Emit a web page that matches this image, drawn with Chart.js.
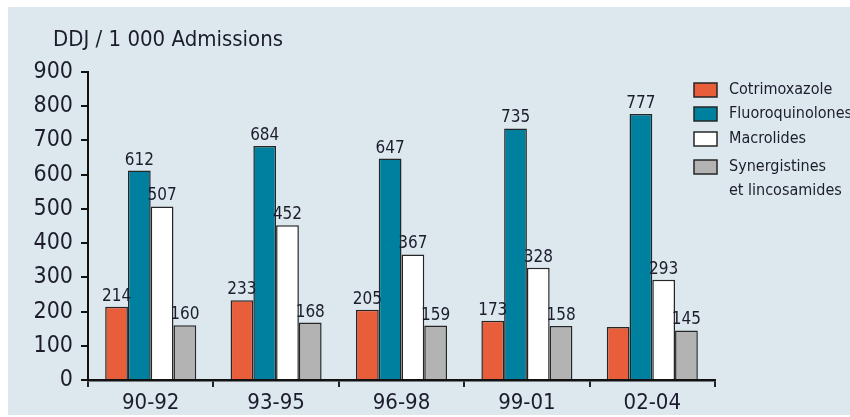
<!DOCTYPE html>
<html>
<head>
<meta charset="utf-8">
<script src="https://cdn.jsdelivr.net/npm/chart.js@4.4.1/dist/chart.umd.min.js"></script>
<style>
  html, body { margin: 0; padding: 0; background: #ffffff; }
  #wrap { position: relative; width: 850px; height: 417px; }
  canvas { display: block; }
</style>
</head>
<body>
<div id="wrap"><canvas id="c" width="850" height="417"></canvas></div>
<script>
// ---- data ----
const categories = ['90-92', '93-95', '96-98', '99-01', '02-04'];
const seriesNames = ['Cotrimoxazole', 'Fluoroquinolones', 'Macrolides', ['Synergistines', 'et lincosamides']];
const cotrimoxazole = [214, 233, 205, 173, 155];
const fluoroquinolones = [612, 684, 647, 735, 777];
const macrolides = [507, 452, 367, 328, 293];
const synergistines = [160, 168, 159, 158, 145];
// value labels printed in the source (null = not printed)
const cotrimoxazoleLabels = ['214', '233', '205', '173', null];
const fluoroquinolonesLabels = ['612', '684', '647', '735', '777'];
const macrolidesLabels = ['507', '452', '367', '328', '293'];
const synergistinesLabels = ['160', '168', '159', '158', '145'];
const yTicks = [0, 100, 200, 300, 400, 500, 600, 700, 800, 900];
const titleText = 'DDJ / 1 000 Admissions';

// ---- styles ----
const FONT = "'Liberation Sans Narrow', 'DejaVu Sans Condensed', 'Arial Narrow', sans-serif";
const TEXT = '#1c1c2c';
const colors = ['#e85d3a', '#00809f', '#ffffff', '#b3b3b3'];
const BORDER = '#262626';
const BG = '#dce8ee';

const allValues = [cotrimoxazole, fluoroquinolones, macrolides, synergistines];
const allLabels = [cotrimoxazoleLabels, fluoroquinolonesLabels, macrolidesLabels, synergistinesLabels];

const datasets = allValues.map((vals, i) => ({
  label: Array.isArray(seriesNames[i]) ? seriesNames[i].join(' ') : seriesNames[i],
  data: vals,
  backgroundColor: colors[i],
  borderColor: BORDER,
  borderWidth: 1.5,
  borderSkipped: 'bottom',
  categoryPercentage: 0.726,
  barPercentage: 1.0
}));

const bgPlugin = {
  id: 'bg',
  beforeDraw(chart) {
    const ctx = chart.ctx;
    ctx.save();
    ctx.fillStyle = '#ffffff';
    ctx.fillRect(0, 0, chart.width, chart.height);
    ctx.fillStyle = BG;
    ctx.fillRect(8, 7, chart.width - 8, chart.height - 9);
    ctx.restore();
  }
};

const decoPlugin = {
  id: 'deco',
  afterDatasetsDraw(chart) {
    const ctx = chart.ctx;
    ctx.save();
    // value labels
    ctx.fillStyle = TEXT;
    ctx.font = '17px ' + FONT;
    ctx.textAlign = 'center';
    ctx.textBaseline = 'alphabetic';
    chart.data.datasets.forEach((ds, di) => {
      const meta = chart.getDatasetMeta(di);
      meta.data.forEach((el, i) => {
        const t = allLabels[di][i];
        if (t == null) return;
        ctx.fillText(t, el.x, el.y - 6);
      });
    });
    // title
    ctx.textAlign = 'left';
    ctx.font = '22px ' + FONT;
    ctx.fillText(titleText, 53, 46);
    // legend
    const bx = 694, bw = 23, bh = 14, tx = 729;
    const rows = [90, 114, 139, 167];
    ctx.font = '16px ' + FONT;
    ctx.textBaseline = 'middle';
    seriesNames.forEach((name, i) => {
      const cy = rows[i];
      ctx.fillStyle = colors[i];
      ctx.fillRect(bx, cy - bh / 2, bw, bh);
      ctx.lineWidth = 1.5;
      ctx.strokeStyle = BORDER;
      ctx.strokeRect(bx, cy - bh / 2, bw, bh);
      ctx.fillStyle = TEXT;
      const lines = Array.isArray(name) ? name : [name];
      lines.forEach((ln, k) => ctx.fillText(ln, tx, cy + k * 24));
    });
    ctx.restore();
  }
};

new Chart(document.getElementById('c'), {
  type: 'bar',
  data: { labels: categories, datasets },
  plugins: [bgPlugin, decoPlugin],
  options: {
    responsive: false,
    animation: false,
    layout: { padding: { left: 0, right: 135, top: 72, bottom: 0 } },
    plugins: { legend: { display: false }, tooltip: { enabled: false }, title: { display: false } },
    scales: {
      x: {
        grid: { display: true, drawOnChartArea: false, drawTicks: true, tickLength: 7, color: '#222', lineWidth: 2, offset: true },
        border: { display: true, color: '#111', width: 2.5 },
        ticks: { color: TEXT, font: { family: FONT, size: 22 }, padding: 3 },
        afterFit(s) { s.height = 37; }
      },
      y: {
        min: 0, max: 900,
        afterBuildTicks(s) { s.ticks = yTicks.map(v => ({ value: v })); },
        grid: { display: true, drawOnChartArea: false, drawTicks: true, tickLength: 7, color: '#111', lineWidth: 2 },
        border: { display: true, color: '#111', width: 2 },
        ticks: { color: TEXT, font: { family: FONT, size: 23 }, padding: 8 },
        afterFit(s) { s.width = 88; }
      }
    }
  }
});
</script>
</body>
</html>
